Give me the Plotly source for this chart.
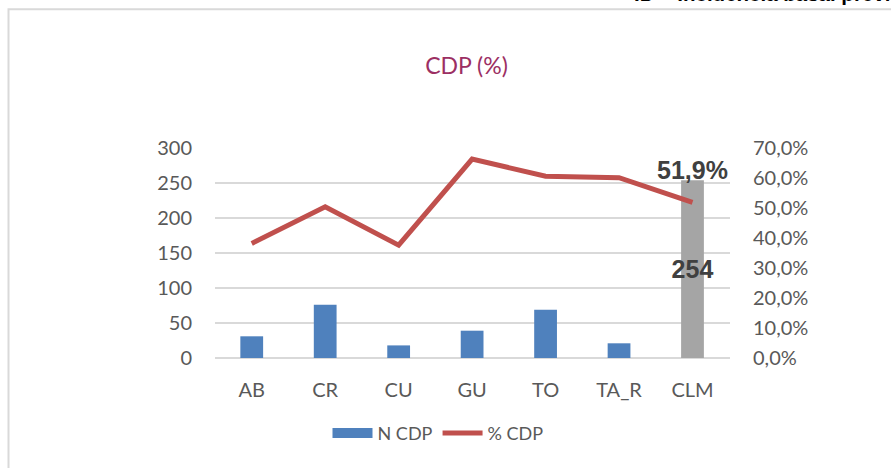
import plotly.graph_objects as go

categories = ["AB", "CR", "CU", "GU", "TO", "TA_R", "CLM"]
n_cdp = [31, 76, 18, 39, 69, 21, 254]
pct_cdp = [38.2, 50.4, 37.6, 66.3, 60.6, 60.1, 51.9]
bar_colors = ["#4F81BD"] * 6 + ["#A5A5A5"]
bar_text = [""] * 6 + [str(n_cdp[-1])]
left_ticks = [0, 50, 100, 150, 200, 250, 300]
right_ticks = [0, 10, 20, 30, 40, 50, 60, 70]
right_ticktext = [f"{v:.1f}%".replace(".", ",") for v in right_ticks]

W, H = 891, 468
L, R, T, B = 215, 161, 148, 109.5
plot_h = H - T - B
plot_w = W - L - R


def px_to_paper_y(py):
    return (H - B - py) / plot_h


def px_to_paper_x(px):
    return (px - L) / plot_w


tick_font = dict(family="Lato", size=20, color="#595959")

fig = go.Figure()
fig.add_trace(go.Bar(
    x=categories, y=n_cdp, name="N CDP", legendgroup="n",
    marker=dict(color=bar_colors, line=dict(width=0)),
    text=bar_text, textposition="inside", insidetextanchor="middle",
    textangle=0, constraintext="none",
    textfont=dict(family="Liberation Sans", size=25, color="#404040", weight="bold"),
    showlegend=False,
))
# legend entry for the bars (wide block like the original legend key)
fig.add_trace(go.Scatter(
    x=[None], y=[None], name="N CDP", legendgroup="n", mode="lines",
    line=dict(color="#4F81BD", width=14),
))
fig.add_trace(go.Scatter(
    x=categories, y=pct_cdp, name="% CDP", yaxis="y2", mode="lines",
    line=dict(color="#C0504D", width=5),
))

# data label for CLM percentage
fig.add_annotation(
    x=categories[-1], y=pct_cdp[-1], xref="x", yref="y2",
    text=f"{pct_cdp[-1]:.1f}%".replace(".", ","), showarrow=False, yshift=32,
    font=dict(family="Liberation Sans", size=25, color="#404040", weight="bold"),
)

# cut-off header text at top
fig.add_annotation(
    x=px_to_paper_x(632), y=px_to_paper_y(-7), xref="paper", yref="paper",
    xanchor="left", yanchor="middle", showarrow=False,
    text="ID – Incidencia basal previa",
    font=dict(family="Liberation Sans", size=20.5, color="#000000", weight="bold"),
)

# chart frame
fig.add_shape(
    type="rect", xref="paper", yref="paper",
    x0=px_to_paper_x(8.5), x1=px_to_paper_x(1000),
    y0=px_to_paper_y(600), y1=px_to_paper_y(9),
    line=dict(color="#D9D9D9", width=2), fillcolor="rgba(0,0,0,0)", layer="below",
)

fig.update_layout(
    width=W, height=H,
    margin=dict(l=L, r=R, t=T, b=B, autoexpand=False),
    paper_bgcolor="white", plot_bgcolor="white",
    separators=",.",
    bargap=0.69,
    title=dict(text="CDP (%)", x=466.5 / W, xanchor="center", y=1 - 66 / H, yanchor="middle",
               font=dict(family="Lato", size=23, color="#9C2F63")),
    xaxis=dict(tickfont=tick_font, showgrid=False, showline=False, ticks="",
               ticklabelstandoff=18),
    yaxis=dict(range=[0, 300], tickvals=left_ticks, tickfont=tick_font,
               showgrid=True, gridcolor="#D9D9D9", gridwidth=1.5,
               zeroline=True, zerolinecolor="#D9D9D9", zerolinewidth=1.5,
               ticklabelstandoff=22, showline=False),
    yaxis2=dict(range=[0, 70], tickvals=right_ticks, ticktext=right_ticktext,
                overlaying="y", side="right", tickfont=tick_font,
                showgrid=False, zeroline=False, showline=False, ticklabelstandoff=22),
    legend=dict(orientation="h", x=px_to_paper_x(438), xanchor="center",
                y=px_to_paper_y(434), yanchor="middle",
                font=dict(family="Lato", size=18, color="#595959"),
                bgcolor="rgba(0,0,0,0)", itemwidth=40),
)

fig.write_html("out.html", config={"displayModeBar": False},
               post_script="document.body.style.margin='0';")
